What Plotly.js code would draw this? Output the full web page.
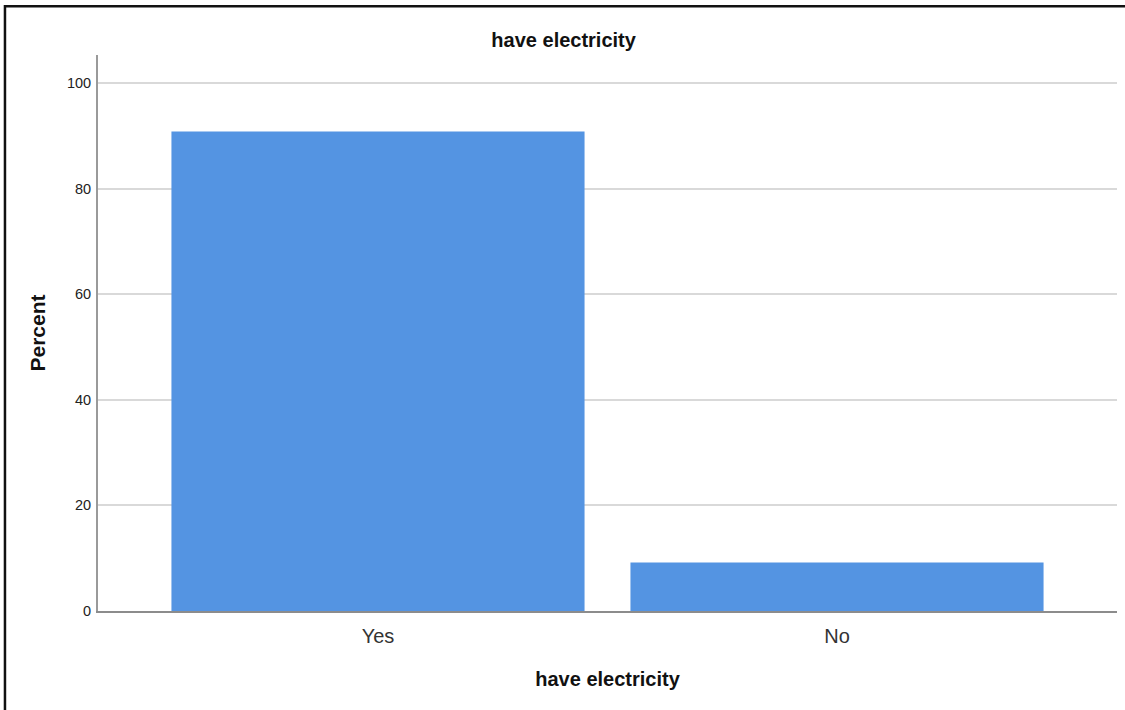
<!DOCTYPE html>
<html>
<head>
<meta charset="utf-8">
<script src="https://cdn.plot.ly/plotly-3.0.1.min.js"></script>
<style>
  html, body { margin: 0; padding: 0; background: #ffffff; }
  #chart { width: 1125px; height: 710px; }
</style>
</head>
<body>
<div id="chart"></div>
<script>
const categories = ["Yes", "No"];
const percentValues = [90.8, 9.2];
const yTickValues = [0, 20, 40, 60, 80, 100];

const trace = {
  type: "bar",
  x: categories,
  y: percentValues,
  marker: { color: "#5494e2", line: { width: 0 } },
  width: 0.9,
  hoverinfo: "x+y"
};

const layout = {
  width: 1125,
  height: 710,
  margin: { l: 98, r: 8, t: 55, b: 99 },
  paper_bgcolor: "#ffffff",
  plot_bgcolor: "#ffffff",
  showlegend: false,
  font: { family: "Liberation Sans, Arial, sans-serif", color: "#222" },
  title: {
    text: "have electricity",
    font: { size: 20, color: "#111", weight: "bold", family: "Liberation Sans, Arial, sans-serif" },
    x: 0.501, xref: "container", xanchor: "center",
    y: 0.9437, yref: "container", yanchor: "middle"
  },
  xaxis: {
    type: "category",
    range: [-0.61, 1.61],
    showline: true, linecolor: "#8c8c8c", linewidth: 2,
    showgrid: false, zeroline: false,
    ticks: "",
    ticklabelstandoff: 6,
    tickfont: { size: 20, color: "#333" },
    title: { text: "have electricity", font: { size: 20, color: "#111", weight: "bold" }, standoff: 26 },
    fixedrange: true
  },
  yaxis: {
    range: [0, 105.3],
    tickvals: yTickValues,
    ticktext: yTickValues.map(String),
    showline: true, linecolor: "#9a9a9a", linewidth: 2,
    showgrid: true, gridcolor: "#d9d9d9", gridwidth: 2,
    zeroline: false,
    ticks: "",
    ticklabelstandoff: 2,
    tickfont: { size: 14.5, color: "#222" },
    title: { text: "Percent", font: { size: 21, color: "#111", weight: "bold" }, standoff: 16 },
    fixedrange: true
  },
  shapes: [{
    type: "rect", xref: "paper", yref: "paper",
    x0: -0.0913, x1: 1.02, y0: -0.2, y1: 1.0875,
    line: { color: "#111", width: 2.5 }, fillcolor: "rgba(0,0,0,0)", layer: "above"
  }]
};

Plotly.newPlot("chart", [trace], layout, { displayModeBar: false, staticPlot: true });
</script>
</body>
</html>
